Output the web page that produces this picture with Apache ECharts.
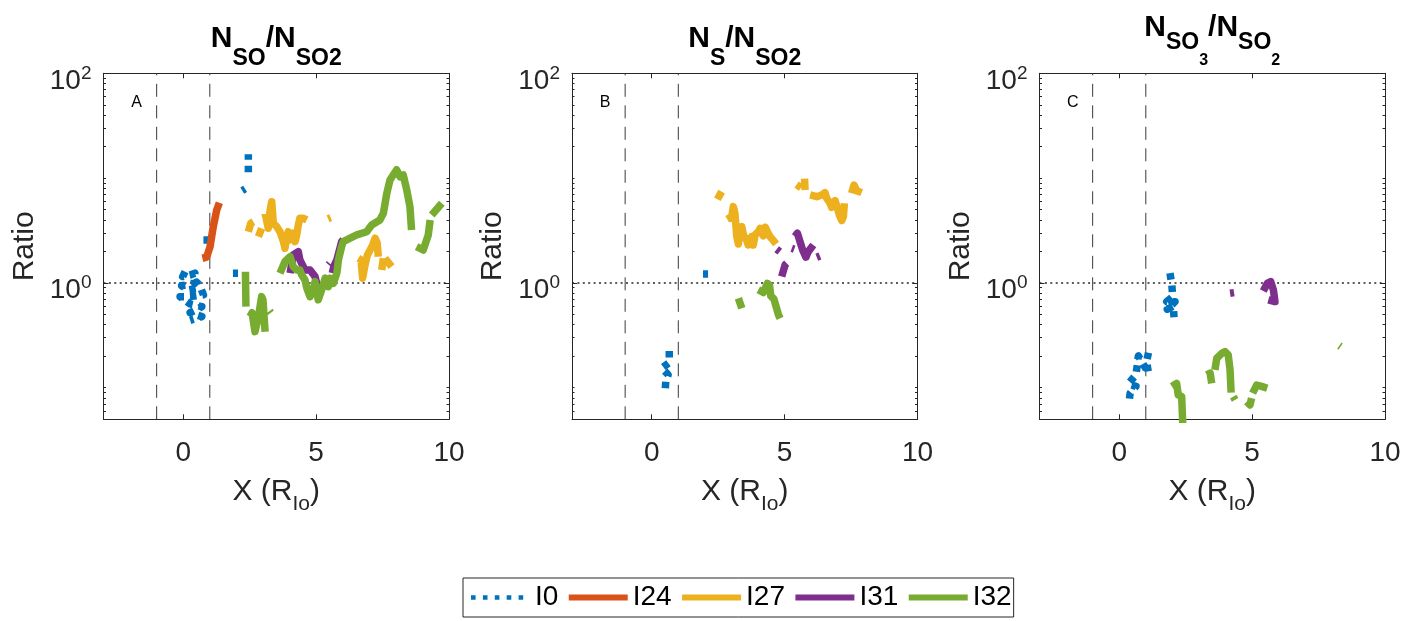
<!DOCTYPE html>
<html>
<head>
<meta charset="utf-8">
<script src="https://cdn.jsdelivr.net/npm/echarts@6/dist/echarts.min.js"></script>
<style>
  html, body { margin: 0; padding: 0; background: #ffffff; }
  #chart { width: 1427px; height: 621px; }
</style>
</head>
<body>
<div id="chart"></div>
<script>
// ---- axis limits and tick labels ----
const xLimits = [-3, 10];
const yLimits = [0.05, 100];
const xTickValues = [0, 5, 10];
const yTickValues = [1, 100];
const probeEdges = [-1, 1];
const unityRatio = 1;

// ---- series names and colours ----
const seriesNames = ['I0', 'I24', 'I27', 'I31', 'I32'];
const seriesColors = ['#0072BD', '#D95319', '#EDB120', '#7E2F8E', '#77AC30'];
const panelLetters = ['A', 'B', 'C'];

// ---- panel A: N_SO / N_SO2 ([X in R_Io, ratio]; null = data gap) ----
const a_I0 = [
  [0.07, 1.28], [-0.02, 1.15], [0.26, 1.19], [0.44, 1.24], [0.41, 0.99], [-0.06, 0.94],
  [0.19, 0.86], [0.57, 0.89], [0.50, 1.02], [0.62, 0.95], [0.76, 0.77], [0.26, 0.74],
  [-0.12, 0.74], [0.26, 0.63], [0.70, 0.594], [0.26, 0.52], [0.70, 0.477], [0.26, 0.44], null,
  [0.76, 2.57], [0.95, 2.57], null,
  [1.87, 1.24], [2.06, 1.24], null,
  [2.22, 7.6], [2.33, 7.9], null,
  [2.45, 11.4], [2.45, 16.9]
];
const a_I24 = [[0.72, 1.72], [0.88, 1.76], [1.01, 2.22], [1.13, 3.44], [1.26, 4.97], [1.36, 5.83]];
const a_I27 = [
  [2.45, 3.08], [2.54, 3.71], [2.64, 3.84], null,
  [2.83, 2.77], [2.95, 3.32], null,
  [3.08, 4.62], [3.20, 3.32], [3.27, 4.97], [3.33, 5.96], [3.39, 3.71], [3.52, 3.44], [3.64, 3.08],
  [3.77, 2.48], [3.83, 2.14], [3.89, 2.77], [3.95, 3.08], [4.02, 2.57], [4.08, 2.48], [4.14, 2.98],
  [4.21, 2.48], [4.27, 2.87], [4.33, 3.57], [4.39, 4.14], [4.52, 4.14], [4.65, 3.99], null,
  [5.45, 4.1], [5.55, 4.2], null,
  [6.59, 1.72], [6.69, 1.66], [6.75, 1.11], [6.84, 1.49], [6.93, 1.85], [7.03, 2.06], [7.13, 2.30],
  [7.22, 2.67], [7.30, 2.39], [7.34, 1.78], null,
  [7.47, 1.33], [7.53, 1.72], null,
  [7.59, 1.72], [7.84, 1.43]
];
const a_I31 = [
  [4.02, 1.24], [4.14, 1.85], [4.33, 1.99], [4.39, 1.66], [4.58, 1.33], [4.77, 1.33], [4.96, 1.15],
  [5.02, 0.99], [5.08, 0.92], null,
  [5.47, 1.49], [5.51, 1.53], null,
  [5.61, 1.24], [5.67, 1.45], [5.78, 1.66], [5.96, 2.48], [6.02, 2.57]
];
const a_I32 = [
  [2.34, 1.28], [2.36, 0.594], null,
  [2.51, 0.477], [2.59, 0.52], [2.70, 0.343], [2.83, 0.477], [2.95, 0.74], [3.00, 0.69], [3.08, 0.343], null,
  [3.25, 0.54], [3.30, 0.52], null,
  [3.64, 1.24], [3.83, 1.60], [4.02, 1.78], [4.14, 1.43], [4.27, 1.33], [4.39, 1.33], [4.46, 1.19],
  [4.58, 1.07], [4.65, 0.89], [4.77, 0.74], [4.89, 0.86], [4.96, 1.03], [5.08, 0.69], [5.21, 0.86],
  [5.34, 1.11], [5.46, 0.92], [5.52, 1.11], [5.65, 0.99], [5.78, 1.24], [5.84, 1.66], [5.96, 2.22],
  [6.02, 2.48], [6.28, 2.67], [6.53, 2.87], [6.90, 3.08], [7.09, 3.57], [7.40, 3.99], [7.53, 4.62],
  [7.66, 7.17], [7.78, 9.6], [7.90, 10.7], [8.03, 12.0], [8.16, 10.3], [8.28, 10.7], [8.41, 7.71],
  [8.53, 5.35], [8.59, 3.20], null,
  [8.78, 2.22], [9.03, 2.06], [9.22, 2.87], [9.29, 3.99], null,
  [9.35, 4.45], [9.73, 5.76]
];

// ---- panel B: N_S / N_SO2 ----
const b_I0 = [
  [0.66, 0.224], [0.66, 0.174], [0.38, 0.154], [0.62, 0.133], [0.53, 0.117], [0.50, 0.0887], null,
  [1.93, 1.22], [2.12, 1.22]
];
const b_I27 = [
  [2.47, 6.28], [2.63, 7.43], null,
  [2.84, 4.05], [3.01, 4.29], [3.07, 5.35], [3.13, 4.62], [3.20, 2.77], [3.26, 2.35], [3.32, 2.98],
  [3.39, 3.44], [3.45, 2.87], [3.57, 2.57], [3.63, 2.30], [3.76, 2.77], [3.82, 2.30], [3.89, 2.87],
  [4.01, 3.08], [4.08, 3.32], [4.14, 2.98], [4.20, 2.81], [4.27, 3.40], [4.35, 3.08], [4.45, 2.77],
  [4.58, 2.53], [4.68, 2.35], null,
  [5.45, 8.67], [5.62, 8.1], null,
  [5.75, 9.9], [5.77, 7.7], null,
  [5.96, 6.91], [6.21, 6.65], [6.40, 6.91], [6.52, 7.27], [6.58, 6.43], [6.71, 5.76], [6.77, 5.27],
  [6.90, 6.10], [6.96, 5.42], [7.06, 4.45], [7.15, 3.93], [7.21, 4.29], [7.25, 5.76], null,
  [7.52, 7.17], [7.61, 8.6], [7.71, 7.59], [7.90, 7.27]
];
const b_I31 = [
  [4.70, 2.10], [4.82, 1.99], null,
  [4.89, 1.15], [5.02, 1.49], [5.08, 1.54], null,
  [5.27, 2.14], [5.36, 2.10], null,
  [5.39, 2.77], [5.48, 2.98], [5.58, 2.48], [5.68, 2.06], [5.80, 1.76], [5.89, 1.99], [6.08, 2.30], null,
  [6.21, 1.76], [6.33, 1.81]
];
const b_I32 = [
  [3.26, 0.715], [3.39, 0.574], null,
  [4.01, 0.86], [4.20, 0.81], [4.35, 0.99], [4.43, 0.957], [4.48, 0.751], [4.60, 0.699], [4.68, 0.594],
  [4.77, 0.495], [4.83, 0.46]
];

// ---- panel C: N_SO3 / N_SO2 ----
const c_I0 = [
  [1.10, 0.216], [1.03, 0.178], [1.10, 0.138], [0.72, 0.201], [0.68, 0.165], [0.63, 0.133],
  [0.34, 0.109], [0.63, 0.103], [0.41, 0.0887], [0.38, 0.0766], null,
  [1.91, 1.24], [1.98, 0.957], [2.01, 0.74], [1.79, 0.663], [2.10, 0.663], [1.81, 0.561],
  [2.04, 0.603], [2.06, 0.471]
];
const c_I31 = [
  [4.17, 0.797], [4.32, 0.808], null,
  [5.42, 0.839], [5.57, 0.99], [5.70, 1.03], [5.80, 0.86], [5.86, 0.663], [5.61, 0.69]
];
const c_I32 = [
  [1.98, 0.103], [2.16, 0.110], [2.22, 0.0855], [2.35, 0.0823], [2.39, 0.045], null,
  [3.29, 0.133], [3.42, 0.138], [3.48, 0.110], null,
  [3.60, 0.148], [3.67, 0.191], [3.86, 0.213], [3.98, 0.221], [4.10, 0.206], [4.17, 0.148], [4.21, 0.0899], null,
  [4.29, 0.0823], [4.36, 0.0766], null,
  [4.80, 0.0738], [4.92, 0.0686], [4.98, 0.0795], null,
  [5.02, 0.0887], [5.17, 0.106], [5.36, 0.103], [5.57, 0.099], null,
  [8.28, 0.252], [8.33, 0.247]
];

const panelData = [
  { I0: a_I0, I24: a_I24, I27: a_I27, I31: a_I31, I32: a_I32 },
  { I0: b_I0, I27: b_I27, I31: b_I31, I32: b_I32 },
  { I0: c_I0, I31: c_I31, I32: c_I32 }
];

// ---- layout ----
const FONT = 'Liberation Sans';
const AXIS_COLOR = '#262626';
const TRACE_WIDTH = 7.5;
const gridLefts = [103.5, 572, 1039.5];
const gridTop = 73.3, gridWidth = 345.5, gridHeight = 346;

// minor ticks of the log axis at 1..9 x 10^k
const minorTicks = [];
for (let e = -2; e <= 1; e++) {
  for (let m = 1; m <= 9; m++) {
    const v = +(m * Math.pow(10, e)).toPrecision(3);
    if (v >= yLimits[0] && v <= yLimits[1] && yTickValues.indexOf(v) < 0) minorTicks.push(v);
  }
}

const grids = [], xAxes = [], yAxes = [], series = [], graphics = [];

gridLefts.forEach(function (left, g) {
  grids.push({ left: left, top: gridTop, width: gridWidth, height: gridHeight, containLabel: false, outerBoundsMode: 'none' });

  // bottom and top X axes
  [false, true].forEach(function (isTop) {
    xAxes.push({
      type: 'value', gridIndex: g, position: isTop ? 'top' : 'bottom',
      min: xLimits[0], max: xLimits[1],
      axisLine: { show: true, onZero: false, lineStyle: { color: AXIS_COLOR, width: 1 } },
      axisTick: { show: true, inside: true, length: 5, customValues: xTickValues, lineStyle: { color: AXIS_COLOR, width: 1 } },
      axisLabel: isTop ? { show: false } : {
        show: true, customValues: xTickValues, margin: 19.5,
        color: AXIS_COLOR, fontSize: 28, fontFamily: FONT
      },
      splitLine: { show: false },
      name: isTop ? '' : '{a|X (R}{s|Io}{a|)}',
      nameLocation: 'middle', nameGap: 57,
      nameTextStyle: {
        color: AXIS_COLOR, fontFamily: FONT,
        rich: {
          a: { fontSize: 30, lineHeight: 34, verticalAlign: 'top', color: AXIS_COLOR, fontFamily: FONT },
          s: { fontSize: 21, lineHeight: 24, padding: [17.5, 0, 0, 0], verticalAlign: 'top', color: AXIS_COLOR, fontFamily: FONT }
        }
      }
    });
  });

  // left/right log axes: major (with line) and minor ticks
  ['left', 'right'].forEach(function (side) {
    [true, false].forEach(function (major) {
      const labelled = major && side === 'left';
      yAxes.push({
        type: 'log', logBase: 10, gridIndex: g, position: side,
        min: yLimits[0], max: yLimits[1],
        axisLine: { show: major, onZero: false, lineStyle: { color: AXIS_COLOR, width: 1 } },
        axisTick: {
          show: true, inside: true, length: major ? 5 : 2.5,
          customValues: major ? yTickValues : minorTicks,
          lineStyle: { color: AXIS_COLOR, width: 1 }
        },
        axisLabel: labelled ? {
          show: true, customValues: yTickValues, margin: 12, padding: [15, 0, 0, 0],
          formatter: function (v) { return '{b|10}{sup|' + Math.round(Math.log10(v)) + '}'; },
          rich: {
            b: { fontSize: 28, lineHeight: 28, verticalAlign: 'bottom', color: AXIS_COLOR, fontFamily: FONT },
            sup: { fontSize: 19, lineHeight: 19, padding: [0, 0, 12, 0], verticalAlign: 'bottom', color: AXIS_COLOR, fontFamily: FONT }
          }
        } : { show: false },
        splitLine: { show: false },
        minorTick: { show: false },
        name: labelled ? 'Ratio' : '',
        nameLocation: 'middle', nameGap: 64,
        nameTextStyle: { fontSize: 30, color: AXIS_COLOR, fontFamily: FONT }
      });
    });
  });

  // probe edges and unity ratio reference lines
  series.push({
    type: 'line', name: 'edges', xAxisIndex: 2 * g, yAxisIndex: 4 * g,
    data: [[probeEdges[0], yLimits[0]], [probeEdges[0], yLimits[1]], ['-', '-'],
           [probeEdges[1], yLimits[0]], [probeEdges[1], yLimits[1]]],
    symbol: 'none', silent: true, animation: false, z: 1,
    lineStyle: { color: '#3a3a3a', width: 1, type: [13, 8.5] }
  });
  series.push({
    type: 'line', name: 'unity', xAxisIndex: 2 * g, yAxisIndex: 4 * g,
    data: [[xLimits[0], unityRatio], [xLimits[1], unityRatio]],
    symbol: 'none', silent: true, animation: false, z: 1,
    lineStyle: { color: '#262626', width: 1.4, type: [2, 3.4] }
  });

  // measured ratio traces
  seriesNames.forEach(function (name, k) {
    const pts = panelData[g][name];
    if (!pts) return;
    series.push({
      type: 'line', name: name, xAxisIndex: 2 * g, yAxisIndex: 4 * g,
      data: pts.map(function (p) { return p === null ? ['-', '-'] : p; }),
      symbol: 'none', showSymbol: false, connectNulls: false, clip: true,
      animation: false, silent: true, z: 2 + k,
      itemStyle: { color: seriesColors[k] },
      lineStyle: {
        color: seriesColors[k], width: TRACE_WIDTH,
        type: name === 'I0' ? [6.5, 6] : 'solid', cap: 'butt', join: 'round'
      }
    });
  });

  // panel letter
  graphics.push({
    type: 'text', x: left + 33.2, y: 102.5, silent: true,
    style: { text: panelLetters[g], font: '16px "' + FONT + '"', fill: '#000', align: 'center', verticalAlign: 'middle' }
  });
});

// ---- panel titles ----
const titleRich = {
  n: { fontSize: 30, fontWeight: 'bold', fontFamily: FONT, lineHeight: 34, verticalAlign: 'top', fill: '#000' },
  s: { fontSize: 23, fontWeight: 'bold', fontFamily: FONT, lineHeight: 26, padding: [22.8, 0, 0, 0], verticalAlign: 'top', fill: '#000' },
  s3: { fontSize: 23, fontWeight: 'bold', fontFamily: FONT, lineHeight: 26, padding: [18.6, 0, 0, 0], verticalAlign: 'top', fill: '#000' },
  ss: { fontSize: 16, fontWeight: 'bold', fontFamily: FONT, lineHeight: 18, padding: [39.7, 0, 0, 0], verticalAlign: 'top', fill: '#000' }
};
const titleTexts = [
  '{n|N}{s|SO}{n|/N}{s|SO2}',
  '{n|N}{s|S}{n|/N}{s|SO2}',
  '{n|N}{s3|SO}{ss|3}{n|/N}{s3|SO}{ss|2}'
];
const titleTops = [24, 24, 12.7];
titleTexts.forEach(function (t, g) {
  graphics.push({
    type: 'text', x: gridLefts[g] + gridWidth / 2, y: titleTops[g], silent: true,
    style: { text: t, rich: titleRich, align: 'center', verticalAlign: 'top', fill: '#000',
             font: 'bold 30px "' + FONT + '"' }
  });
});

// legend keys: solid bars, and a row of square dots for the dotted trace
const dotKey = 'path://M0,0M59,6M0,0.75h4.6v4.5h-4.6zM11.9,0.75h4.6v4.5h-4.6zM23.8,0.75h4.6v4.5h-4.6zM35.7,0.75h4.6v4.5h-4.6zM47.6,0.75h4.6v4.5h-4.6z';
const legendData = seriesNames.map(function (name) {
  return { name: name, icon: name === 'I0' ? dotKey : 'rect' };
});

const chart = echarts.init(document.getElementById('chart'), null, { renderer: 'canvas' });
chart.setOption({
  backgroundColor: '#ffffff',
  animation: false,
  grid: grids,
  xAxis: xAxes,
  yAxis: yAxes,
  legend: {
    data: legendData,
    left: 463, top: 578,
    orient: 'horizontal',
    itemWidth: 59, itemHeight: 6, itemGap: 10.4,
    padding: [5.5, 2, 5.5, 8],
    borderColor: '#262626', borderWidth: 1, borderRadius: 0,
    backgroundColor: '#ffffff',
    selectedMode: false,
    textStyle: { fontSize: 28, color: '#000', fontFamily: FONT }
  },
  series: series,
  graphic: graphics
});
</script>
</body>
</html>
